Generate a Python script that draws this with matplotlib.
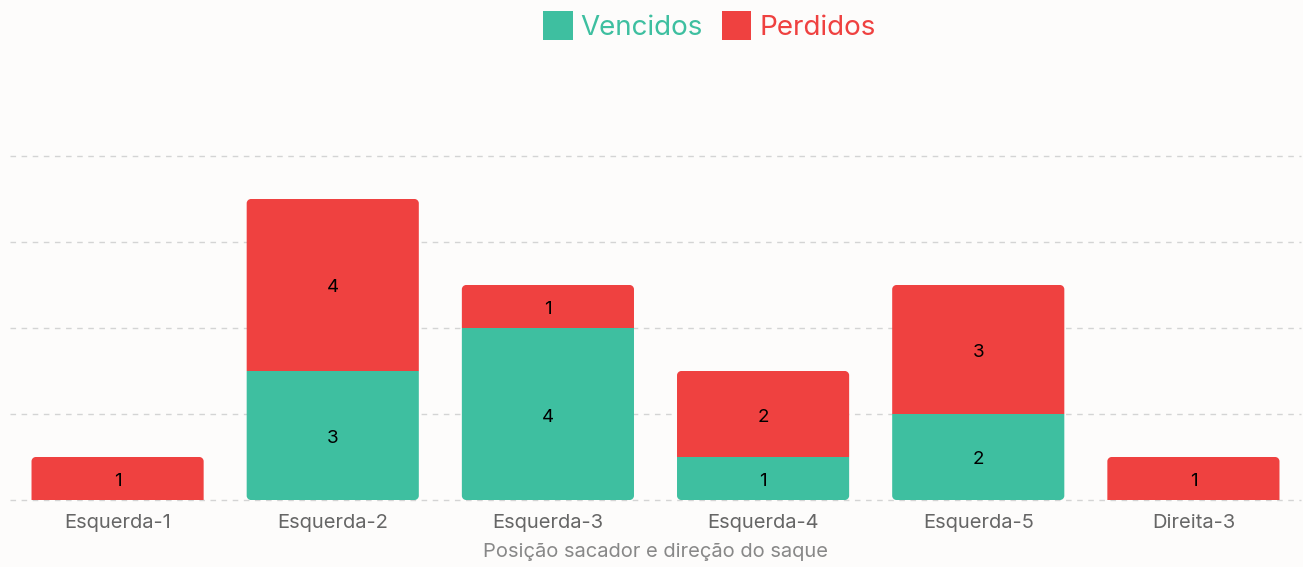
import numpy as np
import matplotlib.pyplot as plt
import matplotlib.transforms as mtransforms
from matplotlib.patches import Patch, PathPatch
from matplotlib.path import Path

plt.rcParams['font.family'] = ['Inter', 'DejaVu Sans']

categorias = ["Esquerda-1", "Esquerda-2", "Esquerda-3", "Esquerda-4", "Esquerda-5", "Direita-3"]
vencidos = [0, 3, 4, 1, 2, 0]
perdidos = [1, 4, 1, 2, 3, 1]

VERDE = "#3ebfa0"
VERMELHO = "#ef4140"
FUNDO = "#fdfcfb"


def rounded_path(x0, y0, w, h, rx, ry, top=True, bottom=False):
    # rectangle with optional rounded corners, radius given in data units
    k = 0.5523
    x1, y1 = x0 + w, y0 + h
    verts, codes = [], []

    def move(p):
        verts.append(p); codes.append(Path.MOVETO)

    def line(p):
        verts.append(p); codes.append(Path.LINETO)

    def curve(c1, c2, p):
        verts.extend([c1, c2, p]); codes.extend([Path.CURVE4] * 3)

    if bottom:
        move((x0 + rx, y0))
        line((x1 - rx, y0))
        curve((x1 - rx + k * rx, y0), (x1, y0 + ry - k * ry), (x1, y0 + ry))
    else:
        move((x0, y0))
        line((x1, y0))
    if top:
        line((x1, y1 - ry))
        curve((x1, y1 - ry + k * ry), (x1 - rx + k * rx, y1), (x1 - rx, y1))
        line((x0 + rx, y1))
        curve((x0 + rx - k * rx, y1), (x0, y1 - ry + k * ry), (x0, y1 - ry))
    else:
        line((x1, y1))
        line((x0, y1))
    if bottom:
        line((x0, y0 + ry))
        curve((x0, y0 + ry - k * ry), (x0 + rx - k * rx, y0), (x0 + rx, y0))
    else:
        line((x0, y0))
    verts.append(verts[0]); codes.append(Path.CLOSEPOLY)
    return Path(verts, codes)


fig = plt.figure(figsize=(13.03, 5.67), dpi=100, facecolor=FUNDO)
ax = fig.add_axes([10 / 1303, 67 / 567, 1291 / 1303, 430 / 567])
ax.set_facecolor(FUNDO)

x = np.arange(len(categorias))
ax.set_xlim(-0.5, len(categorias) - 0.5)
ax.set_ylim(0, 10)

bars_v = ax.bar(x, vencidos, width=0.8, color=VERDE)
bars_p = ax.bar(x, perdidos, width=0.8, bottom=vencidos, color=VERMELHO)

rx, ry = 0.02, 0.1
for bar, v, p in zip(bars_v, vencidos, perdidos):
    bar.set_visible(False)
    if v > 0:
        path = rounded_path(bar.get_x(), bar.get_y(), bar.get_width(), bar.get_height(),
                            rx, ry, top=(p == 0), bottom=True)
        ax.add_patch(PathPatch(path, facecolor=VERDE, edgecolor="none", zorder=2))
for bar, p in zip(bars_p, perdidos):
    bar.set_visible(False)
    if p > 0:
        path = rounded_path(bar.get_x(), bar.get_y(), bar.get_width(), bar.get_height(),
                            rx, ry, top=True, bottom=False)
        ax.add_patch(PathPatch(path, facecolor=VERMELHO, edgecolor="none", zorder=2))

# shift value labels down a few pixels
label_tr = ax.transData + mtransforms.ScaledTranslation(0, -3 / 100, fig.dpi_scale_trans)
for i in range(len(categorias)):
    if vencidos[i] > 0:
        ax.text(x[i], vencidos[i] / 2, str(vencidos[i]), ha="center", va="center",
                fontsize=13.5, color="black", zorder=3, transform=label_tr)
    if perdidos[i] > 0:
        ax.text(x[i], vencidos[i] + perdidos[i] / 2, str(perdidos[i]), ha="center",
                va="center", fontsize=13.5, color="black", zorder=3, transform=label_tr)

ax.set_yticks([0, 2, 4, 6, 8])
ax.set_yticklabels([])
ax.tick_params(axis="y", length=0)
ax.grid(axis="y", color="#d4d4d4", linestyle=(0, (4, 4)), linewidth=1)
for gl in ax.get_ygridlines():
    gl.set_clip_on(False)
ax.set_axisbelow(True)
for s in ax.spines.values():
    s.set_visible(False)

ax.set_xticks(x)
ax.set_xticklabels(categorias, fontsize=14.5, color="#666666")
ax.tick_params(axis="x", length=0, pad=10)
ax.set_xlabel("Posição sacador e direção do saque", fontsize=14.5, color="#888888", labelpad=8)

handles = [Patch(facecolor=VERDE, edgecolor="none"), Patch(facecolor=VERMELHO, edgecolor="none")]
fig.legend(handles, ["Vencidos", "Perdidos"], loc="center", bbox_to_anchor=(709.5 / 1303, 1 - 26 / 567),
           ncol=2, frameon=False, fontsize=20, labelcolor=[VERDE, VERMELHO],
           handlelength=1.05, handleheight=1.2, handletextpad=0.28, columnspacing=0.7)

fig.savefig("out.png", dpi=100, facecolor=FUNDO)
